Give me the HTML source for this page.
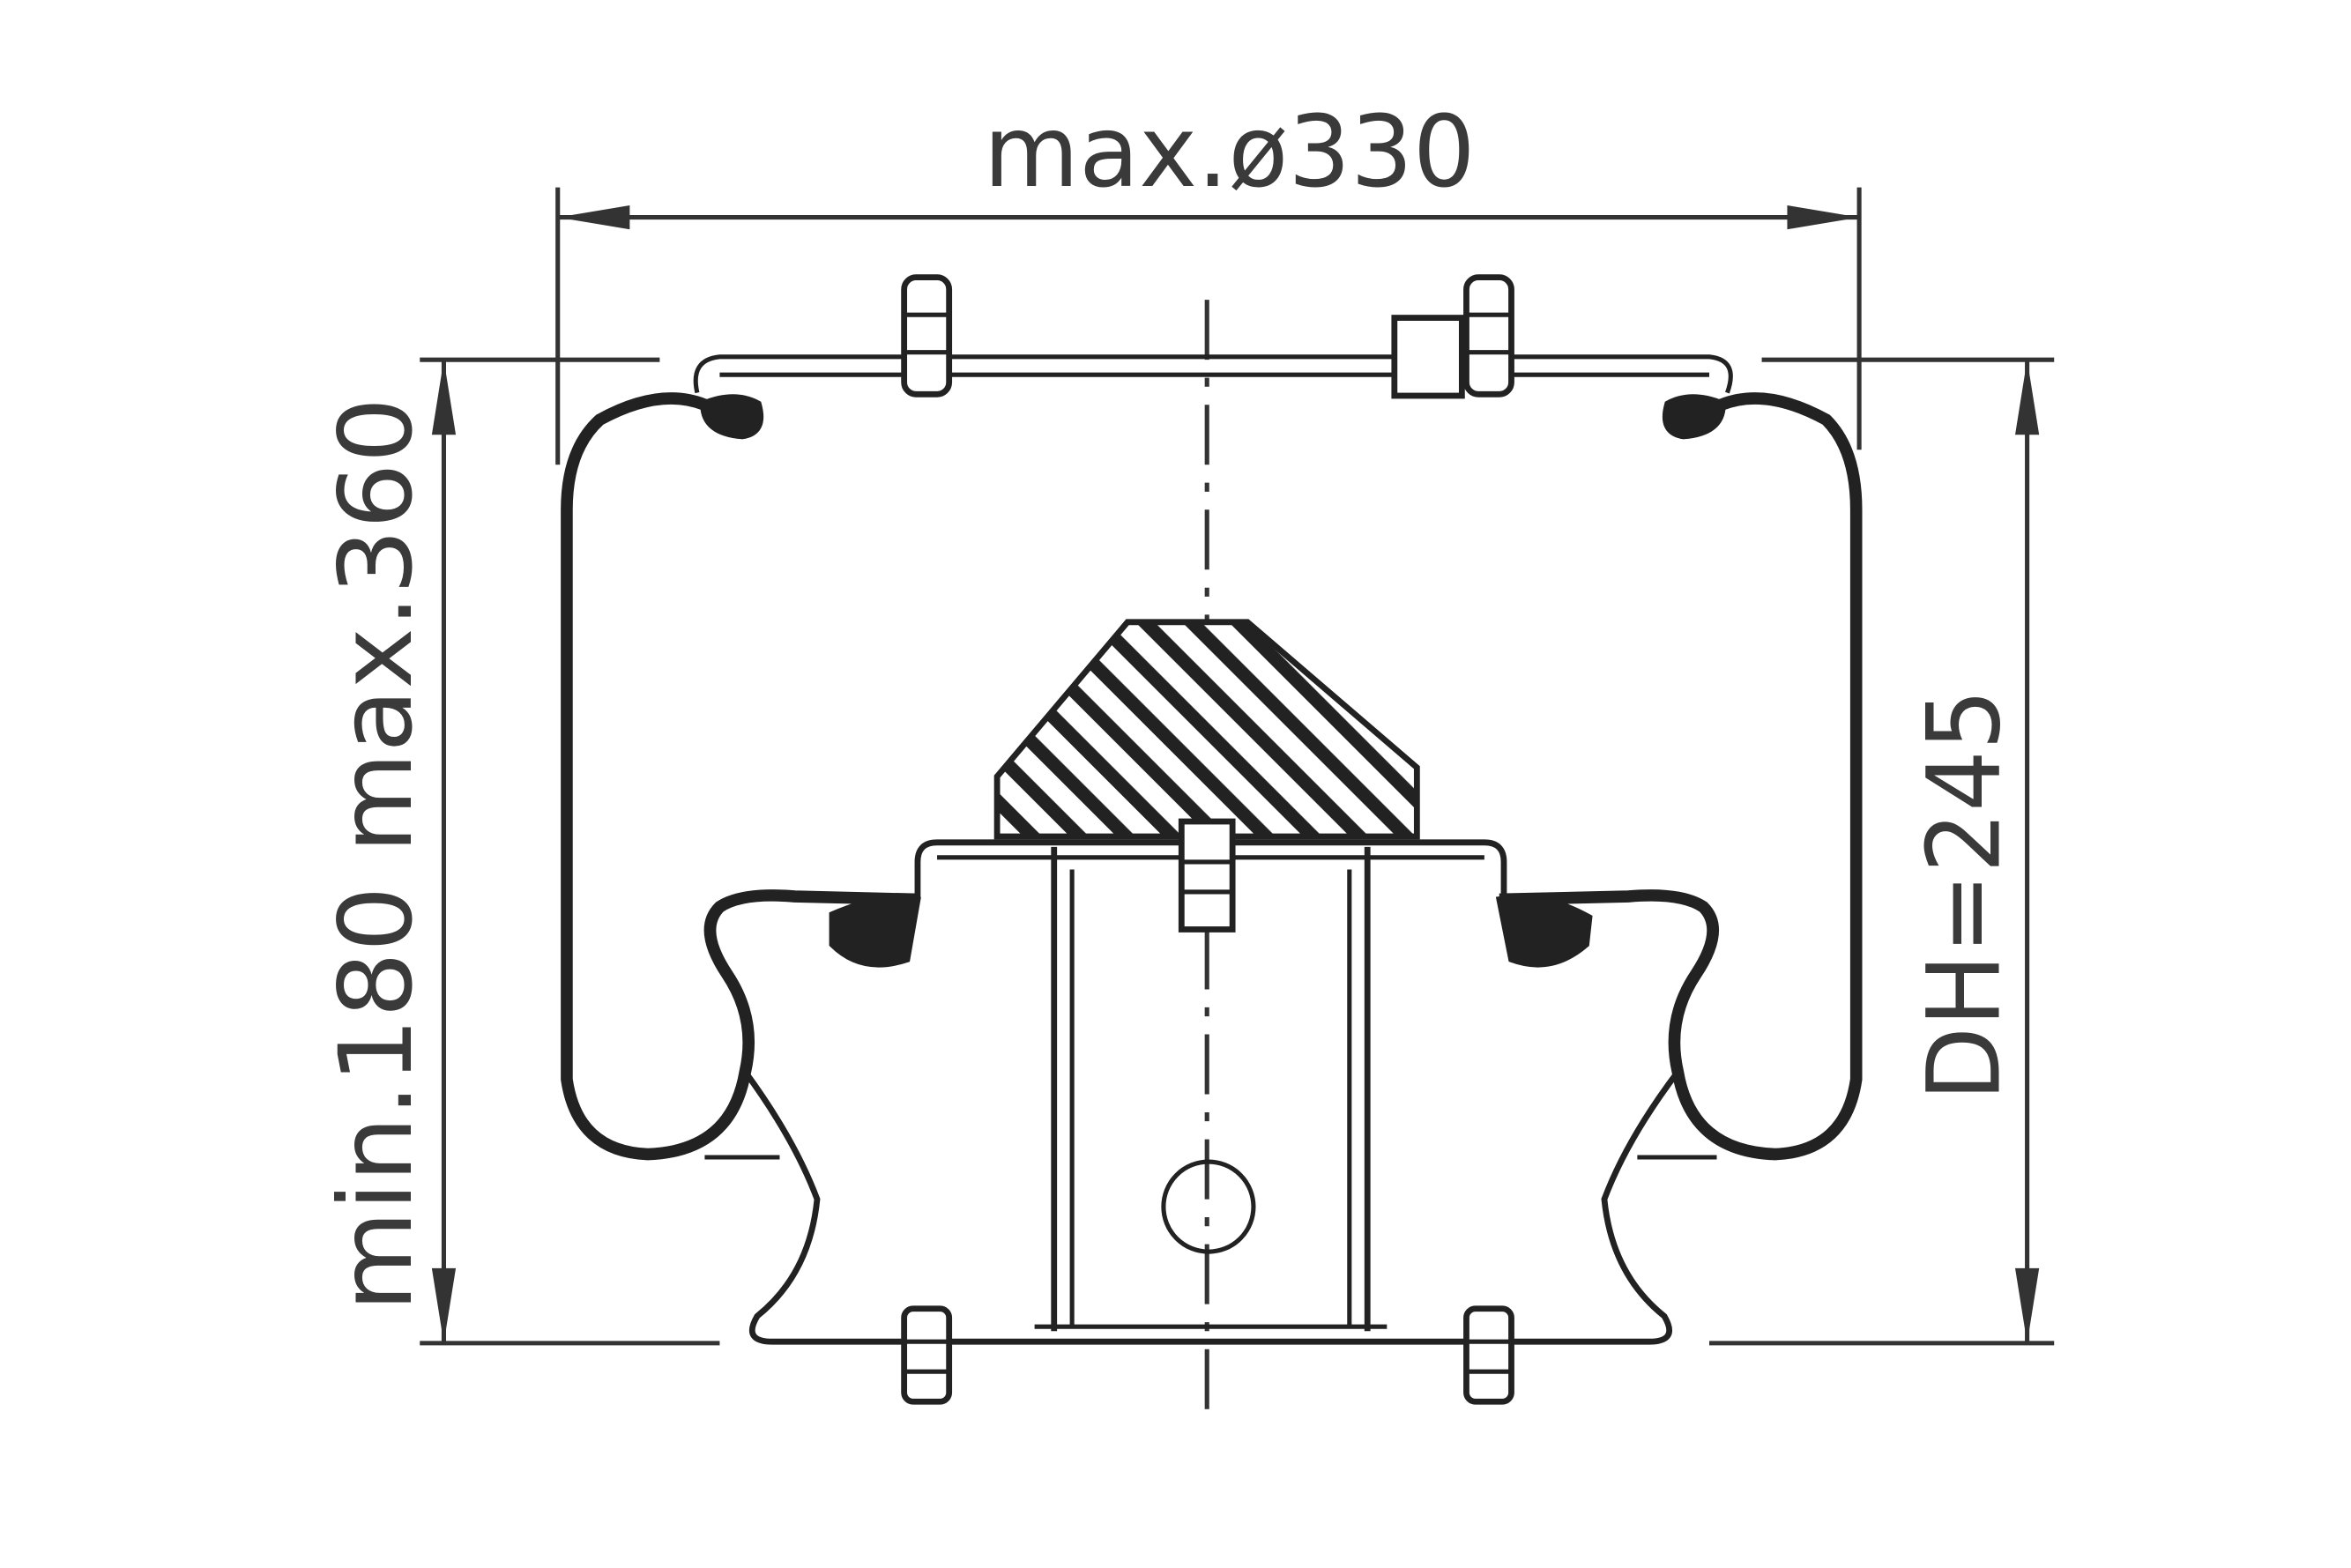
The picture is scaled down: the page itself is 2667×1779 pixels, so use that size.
<!DOCTYPE html>
<html><head><meta charset="utf-8"><style>
html,body{margin:0;padding:0;background:#fff;}
svg{display:block;}
text{font-family:"DejaVu Sans","Liberation Sans",sans-serif;fill:#3a3a3a;font-weight:normal;}
</style></head><body>
<svg width="2667" height="1779" viewBox="0 0 1568 1046" preserveAspectRatio="none" xmlns="http://www.w3.org/2000/svg">
<defs>
<pattern id="h" patternUnits="userSpaceOnUse" width="22" height="22" patternTransform="rotate(-45)">
<rect width="22" height="22" fill="#fff"/><rect x="0" y="0" width="9" height="22" fill="#222"/>
</pattern>
</defs>
<g stroke="#333" fill="none" stroke-width="3">
<line x1="372" y1="125" x2="372" y2="310"/>
<line x1="1240" y1="125" x2="1240" y2="300"/>
<line x1="372" y1="145" x2="1240" y2="145"/>
<line x1="280" y1="240" x2="440" y2="240"/>
<line x1="1175" y1="240" x2="1370" y2="240"/>
<line x1="280" y1="896" x2="480" y2="896"/>
<line x1="1140" y1="896" x2="1370" y2="896"/>
<line x1="296" y1="240" x2="296" y2="896"/>
<line x1="1352" y1="240" x2="1352" y2="896"/>
<line x1="805" y1="200" x2="805" y2="940" stroke-dasharray="40,12,6,12"/>
</g>
<g fill="#333">
<polygon points="372,145 420,137 420,153"/>
<polygon points="1240,145 1192,137 1192,153"/>
<polygon points="296,240 288,290 304,290"/>
<polygon points="296,896 288,846 304,846"/>
<polygon points="1352,240 1344,290 1360,290"/>
<polygon points="1352,896 1344,846 1360,846"/>
</g>
<text x="820" y="124" font-size="66" text-anchor="middle" textLength="328" lengthAdjust="spacingAndGlyphs">max.ø330</text>
<text transform="translate(274,570) rotate(-90)" font-size="67" text-anchor="middle" textLength="610" lengthAdjust="spacingAndGlyphs">min.180  max.360</text>
<text transform="translate(1333,597) rotate(-90)" font-size="67" text-anchor="middle" textLength="275" lengthAdjust="spacingAndGlyphs">DH=245</text>
<g stroke="#222" fill="none">
<path d="M465,262 Q460,240 480,238 L1140,238 Q1160,240 1152,262" stroke-width="3"/>
<line x1="480" y1="250" x2="1140" y2="250" stroke-width="3"/>
<path d="M470,270 Q440,258 400,280 Q378,300 378,340 L378,720 Q385,768 432,770 Q488,768 497,715 Q505,680 485,650 Q465,620 480,605 Q495,595 530,598 L612,600" stroke-width="8"/>
<path d="M470,270 Q490,262 505,270 Q510,288 495,290 Q470,288 470,270" stroke-width="6" fill="#222"/>
<path d="M1148,270 Q1178,258 1218,280 Q1238,300 1238,340 L1238,720 Q1231,768 1184,770 Q1128,768 1119,715 Q1111,680 1131,650 Q1151,620 1136,605 Q1121,595 1086,598 L1000,600" stroke-width="8"/>
<path d="M1148,270 Q1128,262 1113,270 Q1108,288 1123,290 Q1148,288 1148,270" stroke-width="6" fill="#222"/>
<path d="M555,610 Q590,595 612,600 L605,640 Q575,650 555,630 Z" fill="#222" stroke-width="4"/>
<path d="M1000,600 Q1030,595 1060,612 L1058,630 Q1035,650 1008,640 Z" fill="#222" stroke-width="4"/>
<path d="M612,600 L612,575 Q612,562 625,562 L990,562 Q1003,562 1003,575 L1003,600" stroke-width="4"/>
<line x1="625" y1="572" x2="990" y2="572" stroke-width="3"/>
<path d="M497,715 Q530,760 545,800 Q540,850 505,878 Q495,895 515,895 L1100,895 Q1120,895 1110,878 Q1075,850 1070,800 Q1085,760 1119,715" stroke-width="4"/>
<line x1="470" y1="772" x2="520" y2="772" stroke-width="3"/>
<line x1="1092" y1="772" x2="1145" y2="772" stroke-width="3"/>
<line x1="703" y1="565" x2="703" y2="888" stroke-width="4"/>
<line x1="715" y1="580" x2="715" y2="885" stroke-width="3"/>
<line x1="900" y1="580" x2="900" y2="885" stroke-width="3"/>
<line x1="912" y1="565" x2="912" y2="888" stroke-width="4"/>
<line x1="690" y1="885" x2="925" y2="885" stroke-width="3"/>
<circle cx="806" cy="805" r="30" stroke-width="3"/>
<polygon points="665,558 665,518 752,415 832,415 945,512 945,558" fill="url(#h)" stroke-width="4"/>
<rect x="788" y="548" width="34" height="72" fill="#fff" stroke-width="4"/>
<line x1="788" y1="575" x2="822" y2="575" stroke-width="3"/>
<line x1="788" y1="595" x2="822" y2="595" stroke-width="3"/>
<g stroke-width="4" fill="#fff">
<rect x="603" y="185" width="30" height="78" rx="8"/>
<rect x="978" y="185" width="30" height="78" rx="8"/>
<rect x="930" y="212" width="45" height="52"/>
<rect x="603" y="873" width="30" height="62" rx="6"/>
<rect x="978" y="873" width="30" height="62" rx="6"/>
</g>
<g stroke-width="3">
<line x1="603" y1="210" x2="633" y2="210"/><line x1="603" y1="235" x2="633" y2="235"/>
<line x1="978" y1="210" x2="1008" y2="210"/><line x1="978" y1="235" x2="1008" y2="235"/>
<line x1="603" y1="895" x2="633" y2="895"/><line x1="603" y1="915" x2="633" y2="915"/>
<line x1="978" y1="895" x2="1008" y2="895"/><line x1="978" y1="915" x2="1008" y2="915"/>
</g>
</g>
</svg>
</body></html>
